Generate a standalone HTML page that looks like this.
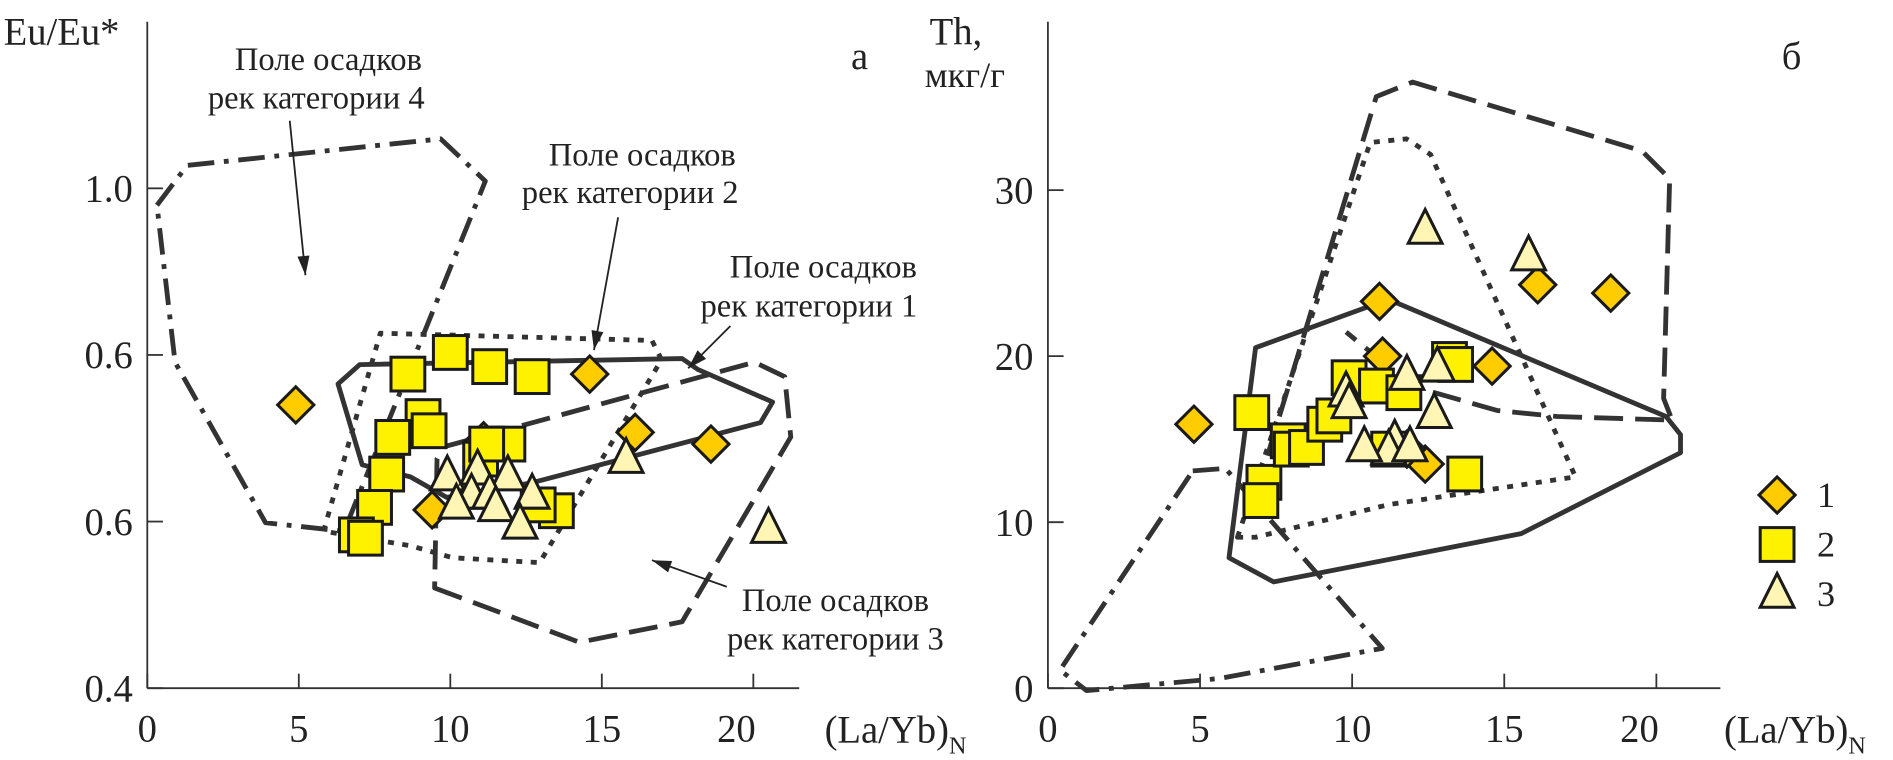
<!DOCTYPE html>
<html><head><meta charset="utf-8"><style>
html,body{margin:0;padding:0;background:#fff}
svg{display:block}
text{font-family:"Liberation Serif",serif;fill:#222}
</style></head><body>
<svg id="c" width="1893" height="760" viewBox="0 0 1568 629.5" preserveAspectRatio="none" xmlns="http://www.w3.org/2000/svg">
<g id="gA"></g>
<g id="gB"></g>
</svg>
<script>
// ---- Panel A data ----
const aXTicks=[0,5,10,15,20];
const aXTickLabels=["0","5","10","15","20"];
const aYTicks=[0.4,0.6,0.8,1.0];
const aYTickLabels=["0.4","0.6","0.6","1.0"];
const aS1x=[4.9,14.6,16.1,18.6,9.4,11.1,11.3];
const aS1y=[0.74,0.777,0.707,0.693,0.614,0.697,0.688];
const aS2x=[8.6,10.0,11.3,12.7,9.1,9.3,8.1,7.9,7.5,6.9,7.2,11.0,11.9,11.2,13.5,12.9];
const aS2y=[0.777,0.803,0.786,0.774,0.726,0.709,0.701,0.657,0.617,0.584,0.58,0.675,0.693,0.693,0.613,0.62];
const aS3x=[9.9,10.9,11.9,10.7,11.3,12.7,10.2,11.5,12.3,15.8,20.5];
const aS3y=[0.654,0.661,0.654,0.632,0.632,0.632,0.62,0.617,0.596,0.675,0.591];
// ---- Panel B data ----
const bXTicks=[0,5,10,15,20];
const bXTickLabels=["0","5","10","15","20"];
const bYTicks=[0,10,20,30];
const bYTickLabels=["0","10","20","30"];
const bS1x=[4.8,10.9,11.0,14.6,16.1,18.5,12.4,11.8];
const bS1y=[15.9,23.3,20.0,19.4,24.3,23.8,13.5,14.4];
const bS2x=[6.7,7.1,7.0,7.9,8.0,8.5,9.1,9.4,9.9,10.8,11.7,13.2,13.4,13.7,11.2];
const bS2y=[16.6,12.4,11.3,14.9,14.4,14.5,15.9,16.4,18.7,18.2,17.8,19.8,19.5,12.9,14.4];
const bS3x=[12.4,15.8,9.8,9.9,11.8,12.8,12.7,11.4,11.2,11.9,10.4];
const bS3y=[27.6,26.0,17.8,17.1,18.8,19.3,16.5,14.9,14.3,14.5,14.5];

const NS="http://www.w3.org/2000/svg";
function mk(p,tag,at){const e=document.createElementNS(NS,tag);for(const k in at)e.setAttribute(k,at[k]);p.appendChild(e);return e;}
const ax={x0:122,kx:25.1,y0:570,ky:690,ymin:0.4};
const bx={x0:868,kx:25.2,y0:570,ky:13.75,ymin:0};
function X(a,v){return a.x0+v*a.kx;}
function Y(a,v){return a.y0-(v-a.ymin)*a.ky;}
const LN="#333";

function marker(g,type,cx,cy){
 let e;
 if(type===1){e=mk(g,'polygon',{points:`${cx},${cy-15} ${cx+15},${cy} ${cx},${cy+15} ${cx-15},${cy}`,fill:'#FFCC00',stroke:'#1a1a1a','stroke-width':2.5});}
 else if(type===2){e=mk(g,'rect',{x:cx-14,y:cy-14,width:28,height:28,fill:'#FFF200',stroke:'#1a1a1a','stroke-width':2.5});}
 else {e=mk(g,'polygon',{points:`${cx},${cy-17} ${cx+14},${cy+11} ${cx-14},${cy+11}`,fill:'#FFF6B5',stroke:'#1a1a1a','stroke-width':2.5});}
 return e;
}
function series(g,a,xs,ys,type,nm){
 for(let i=0;i<xs.length;i++){const e=marker(g,type,X(a,xs[i]),Y(a,ys[i]));
 
 }
}
function axes(g,a,xt,xl,yt,yl,xEnd,yTop){
 const l1=mk(g,'line',{x1:a.x0,y1:a.y0,x2:xEnd,y2:a.y0,stroke:'#333','stroke-width':1.5});
 
 const l2=mk(g,'line',{x1:a.x0,y1:a.y0,x2:a.x0,y2:yTop,stroke:'#333','stroke-width':1.5});
 
 xt.forEach((v,i)=>{const x=X(a,v);mk(g,'line',{x1:x,y1:a.y0,x2:x,y2:a.y0-12,stroke:'#333','stroke-width':1.5});
  const t=mk(g,'text',{x:i===4?x-14:x,y:a.y0+44,'font-size':32,'text-anchor':'middle'});t.textContent=xl[i];
  });
 yt.forEach((v,i)=>{const y=Y(a,v);mk(g,'line',{x1:a.x0,y1:y,x2:a.x0+13,y2:y,stroke:'#333','stroke-width':1.5});
  const t=mk(g,'text',{x:a.x0-12,y:y+11,'font-size':32,'text-anchor':'end'});t.textContent=yl[i];
  });
}
function poly(g,pts,dash,w,nm,closed){
 const e=mk(g,closed===false?'polyline':'polygon',{points:pts,fill:'none',stroke:LN,'stroke-width':w||4,'stroke-dasharray':dash||'none','stroke-linejoin':'round'});
 
}
function txt(g,x,y,s,size,nm,anchor){const t=mk(g,'text',{x:x,y:y,'font-size':size||24,'text-anchor':anchor||'middle'});t.textContent=s;
 return t;}
function xtitle(g,x,y){const t=mk(g,'text',{x:x,y:y,'font-size':32,'text-anchor':'start'});
 
 t.appendChild(document.createTextNode('(La/Yb)'));
 const s=mk(t,'tspan',{'font-size':20,dy:9});s.textContent='N';}
function arrow(g,x1,y1,x2,y2,nm){
 const e=mk(g,'line',{x1,y1,x2,y2,stroke:'#222','stroke-width':1.5});
 
 const ang=Math.atan2(y2-y1,x2-x1),L=16,W=5;
 const bx_=x2-L*Math.cos(ang),by_=y2-L*Math.sin(ang);
 mk(g,'polygon',{points:`${x2},${y2} ${bx_-W*Math.sin(ang)},${by_+W*Math.cos(ang)} ${bx_+W*Math.sin(ang)},${by_-W*Math.cos(ang)}`,fill:'#222'});
}

// Panel A
const gA=document.getElementById('gA');
poly(gA,"130,170 155,137 365,115 402,150 285,440 220,433 145,300",'22,8,4,8',4,'field-category-4');
poly(gA,"268,440 315,276 540,282 548,298 447,466 375,462 340,452",'5,7',4,'field-category-2');
poly(gA,"280,318 298,302 565,297 578,306 640,333 630,350 440,400 370,412 340,395 300,385",null,4,'field-category-1');
poly(gA,"360,487 480,532 565,515 655,362 650,312 625,300 368,370 362,380",'24,10',4,'field-category-3');
series(gA,ax,aS1x,aS1y,1,'series-1');
series(gA,ax,aS2x,aS2y,2,'series-2');
series(gA,ax,aS3x,aS3y,3,'series-3');
axes(gA,ax,aXTicks,aXTickLabels,aYTicks,aYTickLabels,662,18);
txt(gA,3,37,"Eu/Eu*",32,'y-axis-title','start');
xtitle(gA,683,615);
txt(gA,712,57,"a",32,'panel-label-a');
txt(gA,272,58,"Поле осадков",27,'label-cat4');txt(gA,262,90,"рек категории 4",27,'label-cat4');
arrow(gA,240,100,253,228,'arrow-cat4');
txt(gA,532,137,"Поле осадков",27,'label-cat2');txt(gA,522,168,"рек категории 2",27,'label-cat2');
arrow(gA,512,180,492,290,'arrow-cat2');
txt(gA,682,230,"Поле осадков",27,'label-cat1');txt(gA,670,262,"рек категории 1",27,'label-cat1');
arrow(gA,605,270,570,305,'arrow-cat1');
txt(gA,692,506,"Поле осадков",27,'label-cat3');txt(gA,692,538,"рек категории 3",27,'label-cat3');
arrow(gA,602,486,540,464,'arrow-cat3');

// Panel B
const gB=document.getElementById('gB');
poly(gB,"988,390 1015,388 1145,537 1010,562 900,572 878,555",'22,8,4,8',4,'field-category-4');
poly(gB,"1040,410 1140,80 1170,68 1360,125 1383,148 1378,330 1385,348 1290,345 1240,340 1170,320 1115,275",'24,10',4,'field-category-3',false);
poly(gB,"1025,445 1135,118 1165,115 1185,128 1305,395 1150,418 1040,445",'5,7',4,'field-category-2');
poly(gB,"1018,462 1040,288 1150,248 1380,345 1392,360 1392,375 1260,442 1055,482",null,4,'field-category-1');
series(gB,bx,bS1x,bS1y,1,'series-1');
series(gB,bx,bS2x,bS2y,2,'series-2');
series(gB,bx,bS3x,bS3y,3,'series-3');
axes(gB,bx,bXTicks,bXTickLabels,bYTicks,bYTickLabels,1425,18);
txt(gB,770,37,"Th,",32,'y-axis-title','start');
txt(gB,766,72,"мкг/г",30,'y-axis-units','start');
xtitle(gB,1428,615);
txt(gB,1484,57,"б",32,'panel-label-b');
// legend
const lg=mk(gB,'g',{});

[1,2,3].forEach((t,i)=>{const m=marker(lg,t,1472,410+i*41);
 
 txt(lg,1505,420+i*41,String(t),30,'legend-label-'+t,'start');});
</script>
</body></html>
